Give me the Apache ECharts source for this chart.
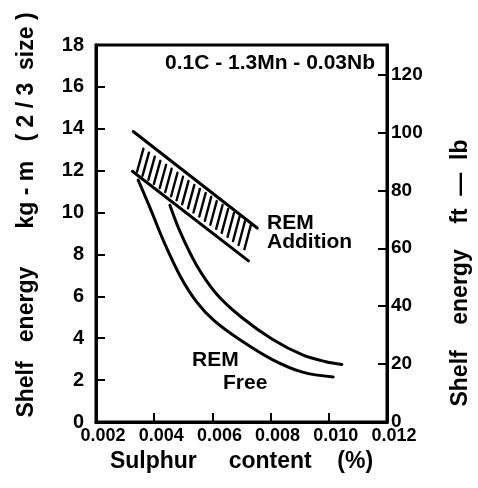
<!DOCTYPE html>
<html>
<head>
<meta charset="utf-8">
<script src="https://cdn.jsdelivr.net/npm/echarts@6/dist/echarts.min.js"></script>
<style>
html, body { margin: 0; padding: 0; background: #fff; }
#chart { width: 478px; height: 488px; }
</style>
</head>
<body>
<div id="chart"></div>
<script>
// sulphur content (%) vs shelf energy (kg-m)
var addUpper = [[0.00328, 13.87], [0.00754, 9.26]];
var addLower = [[0.00325, 11.97], [0.00724, 7.69]];

var freeLeft = [
    [0.00345, 11.55], [0.00385, 10.25], [0.00435, 8.55], [0.00490, 6.95],
    [0.00545, 5.75], [0.00605, 4.85], [0.00692, 3.95], [0.00806, 2.98],
    [0.00910, 2.38], [0.01015, 2.15]
];
var freeRight = [
    [0.00454, 10.35], [0.00490, 9.05], [0.00545, 7.50], [0.00615, 6.10],
    [0.00700, 5.00], [0.00806, 3.95], [0.00910, 3.20], [0.00990, 2.88],
    [0.01045, 2.75]
];

// hatch strokes of the REM addition band (bottom x, bottom y, top y)
var hatchX = [0.00341, 0.00360, 0.00380, 0.00399, 0.00419, 0.00438, 0.00458, 0.00477, 0.00496, 0.00516,
              0.00535, 0.00555, 0.00574, 0.00593, 0.00613, 0.00632, 0.00652, 0.00671, 0.00690, 0.00710];
var hatchBottom = [11.95, 11.76, 11.56, 11.37, 11.17, 10.98, 10.78, 10.59, 10.39, 10.20,
                   10.00, 9.81, 9.61, 9.42, 9.22, 9.03, 8.84, 8.64, 8.45, 8.25];
var hatchTop = [13.05, 12.86, 12.67, 12.47, 12.28, 12.09, 11.90, 11.71, 11.51, 11.32,
                11.13, 10.94, 10.75, 10.55, 10.36, 10.17, 9.98, 9.79, 9.59, 9.40];
var hatchSlant = 0.00022;

var KG_M_MAX = 18;
var FT_LB_PER_KG_M = 7.233;

var FONT = 'Liberation Sans, Arial, sans-serif';

var chart = echarts.init(document.getElementById('chart'));

function lineSeries(name, data, smooth) {
    return {
        name: name,
        type: 'line',
        data: data,
        smooth: smooth,
        symbol: 'none',
        silent: true,
        lineStyle: { color: '#000', width: 3, cap: 'round' }
    };
}

function note(text, x, y, align) {
    return {
        type: 'text', x: x, y: y,
        style: { text: text, font: 'bold 21px ' + FONT, fill: '#000', align: align || 'left', verticalAlign: 'middle' }
    };
}

var hatchData = hatchX.map(function (x, i) {
    return [x, hatchBottom[i], hatchTop[i]];
});

var option = {
    animation: false,
    backgroundColor: '#fff',
    grid: {
        left: 96, right: 91, top: 45, bottom: 66,
        show: true, borderColor: '#000', borderWidth: 3, backgroundColor: 'transparent'
    },
    xAxis: {
        type: 'value',
        min: 0.002,
        max: 0.012,
        interval: 0.002,
        name: 'Sulphur     content    (%)',
        nameLocation: 'middle',
        nameGap: 20,
        nameTextStyle: { fontFamily: FONT, fontWeight: 'bold', fontSize: 23, color: '#000', verticalAlign: 'top' },
        splitLine: { show: false },
        axisLine: { lineStyle: { color: '#000', width: 3 } },
        axisTick: { inside: true, length: 9, lineStyle: { color: '#000', width: 2 } },
        axisLabel: {
            margin: 5,
            padding: [0, 0, 0, 14],
            fontFamily: FONT, fontWeight: 'bold', fontSize: 18, color: '#000',
            formatter: function (v) { return v.toFixed(3); }
        }
    },
    yAxis: [{
        type: 'value',
        min: 0,
        max: KG_M_MAX,
        interval: 2,
        position: 'left',
        splitLine: { show: false },
        axisLine: { show: true, lineStyle: { color: '#000', width: 3 } },
        axisTick: { show: true, inside: true, length: 9, lineStyle: { color: '#000', width: 2 } },
        axisLabel: { margin: 12, fontFamily: FONT, fontWeight: 'bold', fontSize: 20, color: '#000' }
    }, {
        type: 'value',
        min: 0,
        max: KG_M_MAX * FT_LB_PER_KG_M,
        interval: 20,
        position: 'right',
        splitLine: { show: false },
        axisLine: { show: true, lineStyle: { color: '#000', width: 3 } },
        axisTick: { show: true, inside: true, length: 9, lineStyle: { color: '#000', width: 2 } },
        axisLabel: {
            margin: 4, showMaxLabel: false,
            fontFamily: FONT, fontWeight: 'bold', fontSize: 19, color: '#000',
            formatter: function (v) { return v % 20 === 0 ? String(v) : ''; }
        }
    }],
    graphic: [
        {
            type: 'text', x: 27, y: 215, rotation: Math.PI / 2,
            style: {
                text: 'Shelf   energy      kg - m   ( 2 / 3  size )',
                font: 'bold 23px ' + FONT, fill: '#000', align: 'center', verticalAlign: 'middle'
            }
        },
        {
            type: 'text', x: 461, y: 273, rotation: Math.PI / 2,
            style: {
                text: 'Shelf    energy    ft  —  lb',
                font: 'bold 23px ' + FONT, fill: '#000', align: 'center', verticalAlign: 'middle'
            }
        },
        note('0.1C - 1.3Mn - 0.03Nb', 270, 63, 'center'),
        note('REM', 267, 223),
        note('Addition', 267, 242),
        note('REM', 192, 360),
        note('Free', 223, 383)
    ],
    series: [
        lineSeries('REM addition upper', addUpper, false),
        lineSeries('REM addition lower', addLower, false),
        lineSeries('REM free lower', freeLeft, 0.35),
        lineSeries('REM free upper', freeRight, 0.35),
        {
            name: 'hatch',
            type: 'custom',
            silent: true,
            data: hatchData,
            encode: { x: 0, y: [1, 2] },
            renderItem: function (params, api) {
                var b = api.coord([api.value(0), api.value(1)]);
                var t = api.coord([api.value(0) + hatchSlant, api.value(2)]);
                return {
                    type: 'line',
                    shape: { x1: b[0], y1: b[1], x2: t[0], y2: t[1] },
                    style: { stroke: '#000', lineWidth: 2.4, lineCap: 'round' }
                };
            }
        }
    ]
};

chart.setOption(option);
</script>
</body>
</html>
